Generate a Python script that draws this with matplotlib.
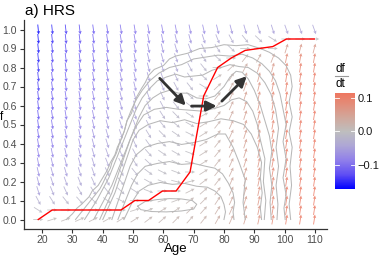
import numpy as np
import matplotlib
matplotlib.use('Agg')
import matplotlib.pyplot as plt
from matplotlib.colors import LinearSegmentedColormap, Normalize
from matplotlib.cm import ScalarMappable
from matplotlib.lines import Line2D

plt.rcParams['font.family'] = ['Liberation Sans', 'DejaVu Sans']

# grid of the vector field
ages = [18.7, 23.3, 27.8, 32.4, 36.9, 41.5, 46.0, 50.6, 55.1, 59.7, 64.2,
        68.8, 73.3, 77.9, 82.4, 87.0, 91.5, 96.1, 100.6, 105.2, 109.8]
f_grid = [0.00, 0.05, 0.10, 0.15, 0.20, 0.25, 0.30, 0.35, 0.40, 0.45, 0.50,
          0.55, 0.60, 0.65, 0.70, 0.75, 0.80, 0.85, 0.90, 0.95, 1.00]

# df/dt in hundredths, first row is f = 1.00, last row f = 0.00
dfdt_rows = [
    [-17, -15, -14, -13, -12, -11, -10, -9.5, -9, -8.5, -8, -7.5, -7, -6.5, -6, -5.5, -5, -5, -4.5, -4.5, -4.5],
    [-16.5, -14.5, -13.5, -12.5, -11.5, -10.5, -9.5, -9, -8, -7.5, -6.5, -6, -5, -4, -3, -2, -1.5, -1, 0, 0, 0],
    [-16, -14, -13, -12, -11, -10, -9, -8.5, -7, -6.5, -5.5, -4.5, -3.5, -2.5, -1.5, 0, 0, 0, 5, 6, 6],
    [-15.5, -13.5, -12.5, -11.5, -10.5, -9.5, -8.5, -8, -6.5, -5.5, -4.5, -3.5, -2.5, -1.5, 0, 2, 3, 4, 8, 9, 9],
    [-15, -13, -12, -11, -10, -9, -8, -7.5, -6, -5, -4, -3, -2, 0, 1.5, 3, 5, 6, 9, 10, 10],
    [-14.5, -12.5, -11.5, -10.5, -9.5, -8.5, -7.5, -7, -5.5, -4.5, -3.5, -2.5, -1.5, 1, 2.5, 4, 6, 7, 10, 10, 10.5],
    [-14, -12, -11, -10, -9, -8, -7, -6.5, -5, -4, -3, -2, -1, 1.5, 3, 4.5, 6.5, 8, 10, 10.5, 11],
    [-13.5, -11.5, -10.5, -9.5, -8.5, -7.5, -6.5, -6, -4.5, -3.5, -2.5, -1.5, 0, 2, 3.5, 5, 7, 8.5, 10, 10.5, 11],
    [-13, -11, -10, -9, -8, -7, -6, -5.5, -4, -3, -2, -1.2, 0.5, 2, 3.5, 5, 7, 8.5, 10, 10.5, 11],
    [-12.5, -10.5, -9.5, -8.5, -7.5, -6.5, -5.5, -5, -3.5, -2.5, -1.6, -1, 0.8, 2, 3.5, 5, 7, 8.5, 10, 10.5, 11],
    [-12, -10, -9, -8, -7, -6, -5, -4.5, -3, -2, -1.3, -0.9, 1, 2, 3.5, 5, 7, 8.5, 10, 10.5, 11],
    [-11, -9.5, -8.5, -7.5, -6.5, -5.5, -4.5, -4, -2.6, -1.6, -1.1, -0.8, 1, 2, 3.5, 5, 7, 8.5, 10, 10.5, 11],
    [-10, -9, -8, -7, -6, -5, -4, -3.5, -2.2, -1.3, -1, -0.7, 1, 2, 3.5, 5, 7, 8.5, 10, 10.5, 11],
    [-9, -8, -7, -6.5, -5.5, -4.5, -3.5, -3, -1.8, -1.1, -0.9, -0.6, 1, 2, 3.5, 5, 7, 8.5, 10, 10.5, 11],
    [-8, -7, -6, -5.5, -5, -4, -3, -2.5, -1.5, -0.9, -0.8, -0.4, 1, 2, 3.5, 5, 7, 8.5, 10, 10.5, 11],
    [-7, -6, -5.5, -5, -4.5, -3.5, -2.5, -2, -1.2, -0.8, -0.6, 0, 1, 2, 3.5, 5, 7, 8.5, 10, 10.5, 11],
    [-6, -5, -4.5, -4, -3.5, -3, -2, -1.5, -0.9, -0.6, -0.4, 0.4, 1.2, 2, 3.5, 5, 7, 8.5, 10, 10.5, 11],
    [-5, -4, -3.5, -3, -2.5, -2, -1.5, -1, -0.6, 0, 0, 0.8, 1.4, 2.2, 3.5, 5, 7, 8.5, 10, 10.5, 11],
    [-3, -2.5, -2, -1.8, -1.5, -1.2, -0.8, 0, 0, 0.5, 0.6, 1.2, 1.6, 2.4, 3.5, 5, 7, 8.5, 10, 10.5, 11],
    [-1, 0, 0, 0, 0, 0, 0, 0.5, 0.6, 1, 1.1, 1.5, 1.8, 2.6, 3.5, 5, 7, 8.5, 10, 10.5, 11],
    [0, 0.5, 0.6, 0.7, 0.8, 0.9, 1, 1, 1.2, 1.4, 1.6, 1.8, 2, 2.8, 3.5, 5, 7, 8.5, 10, 10.5, 11],
]

# red line (df/dt = 0)
eq_f = [0.0, 0.05, 0.05, 0.05, 0.05, 0.05, 0.05, 0.10, 0.10, 0.15, 0.15,
        0.25, 0.65, 0.80, 0.85, 0.89, 0.90, 0.91, 0.95, 0.95, 0.95]

# density contours (age, f)
k1_age = [28, 30, 31.5, 33, 35.5, 36.5, 38.5, 40, 41.5, 42.5, 44, 44.8, 46, 47.2, 48, 49.5, 50.2, 51, 52.8, 54, 55.2,
          57, 60, 62, 64, 68, 72, 76, 80, 84, 88, 92, 95, 98, 100.5, 102, 102.5, 101.5, 102.5, 101.5, 102.5,
          101.8, 102.3, 101.5, 102]
k1_f = [0.0, 0.03, 0.06, 0.08, 0.12, 0.15, 0.18, 0.22, 0.26, 0.3, 0.34, 0.38, 0.42, 0.47, 0.52, 0.56, 0.6, 0.64,
        0.69, 0.72, 0.76, 0.79, 0.81, 0.845, 0.86, 0.875, 0.9, 0.905, 0.92, 0.915, 0.92, 0.9, 0.88, 0.85, 0.81,
        0.76, 0.7, 0.62, 0.54, 0.46, 0.38, 0.28, 0.18, 0.08, 0.0]
k2_age = [31, 33, 35, 37.5, 39, 40, 41.5, 42.5, 43, 44.5, 45.5, 46.2, 47, 48, 49.5, 51, 53, 55.5, 58.5, 62, 66, 70,
          74, 78, 82, 86, 89.5, 92.5, 95, 97, 98.5, 99.5, 100.5, 99.5, 100.5, 99.5, 100.5, 99.8, 100.2]
k2_f = [0.0, 0.04, 0.08, 0.13, 0.16, 0.19, 0.24, 0.27, 0.3, 0.35, 0.4, 0.43, 0.46, 0.52, 0.58, 0.63, 0.68, 0.73,
        0.77, 0.8, 0.815, 0.845, 0.855, 0.865, 0.86, 0.87, 0.85, 0.82, 0.78, 0.73, 0.66, 0.58, 0.5, 0.41, 0.32,
        0.22, 0.13, 0.06, 0.0]
k3_age = [34, 36, 38, 40, 42, 43.5, 45, 46.5, 48, 49.5, 51, 53, 55.5, 58, 61, 64, 67, 70, 73, 76, 79, 82, 85, 88,
          91, 93.5, 95.5, 97, 98, 97.2, 98, 97.2, 97.8, 97.5]
k3_f = [0.0, 0.05, 0.1, 0.16, 0.22, 0.28, 0.34, 0.4, 0.46, 0.52, 0.58, 0.64, 0.69, 0.73, 0.75, 0.765, 0.75, 0.755,
        0.76, 0.785, 0.8, 0.815, 0.805, 0.8, 0.77, 0.72, 0.66, 0.58, 0.48, 0.38, 0.28, 0.18, 0.08, 0.0]
k4_age = [37, 39, 41, 43, 44.5, 46, 47.5, 49, 50.5, 52, 54, 56.5, 59, 62, 65, 68, 71, 74, 77, 80, 82, 84, 86, 88,
          90, 92, 93.5, 95, 95.8, 95, 95.8, 95.2, 95.6]
k4_f = [0.0, 0.06, 0.12, 0.18, 0.24, 0.3, 0.36, 0.42, 0.48, 0.54, 0.6, 0.64, 0.665, 0.68, 0.665, 0.665, 0.64, 0.635,
        0.65, 0.7, 0.75, 0.78, 0.775, 0.74, 0.68, 0.6, 0.52, 0.44, 0.36, 0.27, 0.18, 0.09, 0.0]
k4b_age = [39, 41, 43, 44.5, 46, 47.5, 49, 51, 53.5, 57, 61, 65, 69, 73, 77, 80, 82.5, 85, 87.5, 89.5, 91, 92,
           93.5, 93, 93.8, 93.3]
k4b_f = [0.0, 0.07, 0.14, 0.21, 0.28, 0.35, 0.42, 0.49, 0.55, 0.58, 0.59, 0.58, 0.575, 0.57, 0.585, 0.6, 0.63,
         0.64, 0.62, 0.57, 0.5, 0.42, 0.32, 0.2, 0.1, 0.0]
k5_age = [40, 42, 44, 45.5, 47, 48.5, 50, 52, 55, 59, 63, 67, 71, 75, 79, 83, 86.5, 89, 91, 92.4, 92, 92.6, 92, 92.4]
k5_f = [0.0, 0.07, 0.14, 0.21, 0.28, 0.35, 0.42, 0.47, 0.5, 0.52, 0.51, 0.525, 0.505, 0.515, 0.53, 0.52, 0.5, 0.45,
        0.38, 0.3, 0.22, 0.14, 0.06, 0.0]
k6_age = [43, 44.5, 46, 47.5, 49, 51, 54, 58, 62, 66, 70, 74, 78, 80.5, 83, 85, 87, 86.3, 87]
k6_f = [0.0, 0.07, 0.14, 0.21, 0.28, 0.34, 0.38, 0.4, 0.41, 0.395, 0.405, 0.42, 0.45, 0.45, 0.38, 0.3, 0.21, 0.09, 0.0]
k7_age = [45, 46.5, 48, 49.5, 51.5, 54, 58, 62, 66, 70, 74, 77, 79.5, 81.5, 83, 83.5, 83, 83.3]
k7_f = [0.0, 0.06, 0.12, 0.18, 0.24, 0.28, 0.295, 0.305, 0.29, 0.295, 0.28, 0.27, 0.24, 0.19, 0.14, 0.09, 0.04, 0.0]
k8_age = [47, 48.5, 50, 52, 55, 59, 63, 67, 71, 74.5, 77, 79, 80, 80.5, 80]
k8_f = [0.0, 0.05, 0.1, 0.15, 0.18, 0.195, 0.185, 0.19, 0.175, 0.17, 0.15, 0.12, 0.08, 0.04, 0.0]
k9_age = [51.5, 54, 58, 62, 66, 69.5, 71, 70, 66, 61, 56, 52.5, 51.5]
k9_f = [0.07, 0.095, 0.105, 0.11, 0.108, 0.1, 0.08, 0.055, 0.045, 0.04, 0.042, 0.052, 0.07]
contours = [(k1_age, k1_f), (k2_age, k2_f), (k3_age, k3_f), (k4_age, k4_f), (k4b_age, k4b_f),
            (k5_age, k5_f), (k6_age, k6_f), (k7_age, k7_f), (k8_age, k8_f), (k9_age, k9_f)]

# the three big arrows
big_age = [[58.8, 67.4], [69.3, 77.6], [79.3, 87.5]]
big_f = [[0.743, 0.600], [0.597, 0.597], [0.623, 0.754]]

# colour scale
cb_vals = [-0.172, -0.129, -0.086, -0.043, 0.0, 0.043, 0.086, 0.115]
cb_cols = ['#0000FF', '#5F4EF4', '#907FEA', '#ADA6D6', '#BEBEBE', '#D2A69A', '#E48A76', '#EE7660']
vmin, vmax = cb_vals[0], cb_vals[-1]
cmap = LinearSegmentedColormap.from_list(
    'dfdt', [((v - vmin) / (vmax - vmin), c) for v, c in zip(cb_vals, cb_cols)])
norm = Normalize(vmin=vmin, vmax=vmax)

W, H = 389, 259
fig = plt.figure(figsize=(W / 100, H / 100), dpi=100)
ax = fig.add_axes([24 / W, 1 - 229 / H, 303 / W, 209 / H])
xlim = (14.0, 114.0)
ylim = (-0.05, 1.05)
ax.set_xlim(xlim)
ax.set_ylim(ylim)
sx = 303 / (xlim[1] - xlim[0])
sy = 209 / (ylim[1] - ylim[0])

# arrows of constant length on screen, slope from df/dt
A, F = np.meshgrid(ages, f_grid)
D = np.array(dfdt_rows[::-1]) / 100.0
pdx = np.full_like(D, sx)
pdy = D * sy
nrm = np.hypot(pdx, pdy)
L = 10.0
U = L * pdx / nrm / sx
V = L * pdy / nrm / sy
ax.quiver(A, F, U, V, D, cmap=cmap, norm=norm, angles='xy', scale_units='xy', scale=1,
          pivot='middle', units='dots', width=0.85, headwidth=4, headlength=4,
          headaxislength=3.5, alpha=0.85, zorder=1)

for ca, cf in contours:
    ax.plot(ca, cf, color='#B8B8B8', lw=0.75, zorder=2)

ax.plot(ages, eq_f, color='red', lw=1.0, zorder=3)

for ba, bf in zip(big_age, big_f):
    ax.annotate('', xy=(ba[1], bf[1]), xytext=(ba[0], bf[0]),
                arrowprops=dict(arrowstyle='-|>,head_length=0.6,head_width=0.3', color='#333333',
                                lw=2.0, mutation_scale=10, shrinkA=0, shrinkB=0), zorder=4)

for s in ['top', 'right']:
    ax.spines[s].set_visible(False)
for s in ['left', 'bottom']:
    ax.spines[s].set_color('#333333')
    ax.spines[s].set_linewidth(0.9)
ax.set_xticks([20, 30, 40, 50, 60, 70, 80, 90, 100, 110])
yt = [0.0, 0.1, 0.2, 0.3, 0.4, 0.5, 0.6, 0.7, 0.8, 0.9, 1.0]
ax.set_yticks(yt)
ax.set_yticklabels(['%.1f' % v for v in yt])
ax.tick_params(length=3, width=0.8, color='#333333', labelsize=7.5, labelcolor='#4D4D4D', pad=1.5)
ax.tick_params(axis='y', pad=2.3)

fig.text(25 / W, 1 - 15 / H, 'a) HRS', fontsize=11, ha='left', va='baseline')
fig.text(0.2 / W, 1 - 120 / H, 'f', fontsize=8.5, ha='left', va='baseline')
fig.text(176 / W, 1 - 252 / H, 'Age', fontsize=9.5, ha='center', va='baseline')

# colour bar
cax = fig.add_axes([335 / W, 1 - 189 / H, 20 / W, 96 / H])
sm = ScalarMappable(norm=norm, cmap=cmap)
cb = fig.colorbar(sm, cax=cax, ticks=[-0.1, 0.0, 0.1])
cb.outline.set_visible(False)
cb.ax.set_yticklabels(['\u22120.1', '0.0', '0.1'])
cb.ax.tick_params(length=0, labelsize=8, pad=2, labelcolor='#1A1A1A')
for v in [-0.1, 0.0, 0.1]:
    cax.plot([0, 0.2], [v, v], color='white', lw=0.6, transform=cax.get_yaxis_transform())
    cax.plot([0.8, 1], [v, v], color='white', lw=0.6, transform=cax.get_yaxis_transform())
cax.set_ylim(vmin, vmax)

fig.text(335 / W, 1 - 72 / H, 'df', fontsize=8.5, ha='left', va='baseline')
fig.add_artist(Line2D([335 / W, 348 / W], [1 - 76 / H, 1 - 76 / H], color='#999999', lw=0.8))
fig.text(335 / W, 1 - 87 / H, 'dt', fontsize=8.5, ha='left', va='baseline')

fig.savefig('out.png', dpi=100)
